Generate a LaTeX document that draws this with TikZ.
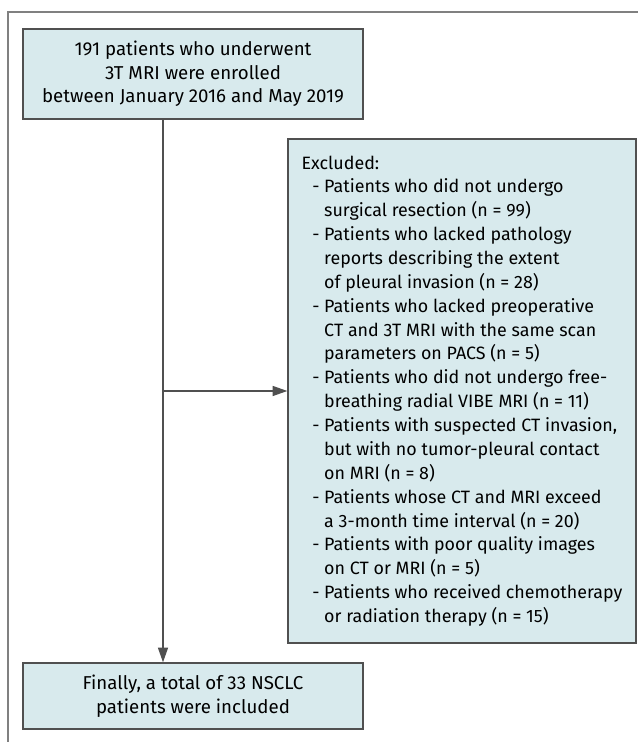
\documentclass[tikz,border=0pt]{standalone}
\usepackage{fontspec}
\setmainfont{Fira Sans}
\usetikzlibrary{arrows.meta}
\definecolor{boxfill}{RGB}{216,234,237}
\definecolor{boxline}{RGB}{80,80,80}
\newcommand{\exitem}[1]{\hspace*{0.6em}- #1}
\newcommand{\excont}[1]{\hspace*{0.6em}\phantom{- }#1}
\begin{document}
\begin{tikzpicture}[x=0.75pt, y=0.75pt,
    font=\fontsize{14}{17.6}\selectfont,
    flowbox/.style={draw=boxline, fill=boxfill, line width=1pt, inner sep=0pt, align=center},
    flowarrow/.style={draw=boxline, line width=0.9pt, -{Triangle[length=11pt, width=7.5pt]}}]
      \useasboundingbox (0, 0) rectangle (638, 742);
      \draw [gray, line width=1pt] (8, 0) -- (8, 730) -- (638, 730);
      \node [flowbox, minimum width=255pt, minimum height=67.5pt] (enrolled) at (193, 668)
        {191 patients who underwent\\3T MRI were enrolled\\between January 2016 and May 2019};
      \node [flowbox, minimum width=261pt, minimum height=378pt, align=left,
        font=\fontsize{13.4}{17.9}\selectfont] (excluded) at (462, 351)
        {Excluded:\\
        \exitem{Patients who did not undergo}\\
        \excont{surgical resection (n = 99)}\\
        \exitem{Patients who lacked pathology}\\
        \excont{reports describing the extent}\\
        \excont{of pleural invasion (n = 28)}\\
        \exitem{Patients who lacked preoperative}\\
        \excont{CT and 3T MRI with the same scan}\\
        \excont{parameters on PACS (n = 5)}\\
        \exitem{Patients who did not undergo free-}\\
        \excont{breathing radial VIBE MRI (n = 11)}\\
        \exitem{Patients with suspected CT invasion,}\\
        \excont{but with no tumor-pleural contact}\\
        \excont{on MRI (n = 8)}\\
        \exitem{Patients whose CT and MRI exceed}\\
        \excont{a 3-month time interval (n = 20)}\\
        \exitem{Patients with poor quality images}\\
        \excont{on CT or MRI (n = 5)}\\
        \exitem{Patients who received chemotherapy}\\
        \excont{or radiation therapy (n = 15)}};
      \node [flowbox, minimum width=255pt, minimum height=49.5pt] (final) at (193, 46)
        {Finally, a total of 33 NSCLC\\patients were included};
      \coordinate (split) at (163, 351);
      \draw [flowarrow] (enrolled.south -| split) -- (final.north -| split);
      \draw [flowarrow] (split) -- (excluded.west);
    \end{tikzpicture}
\end{document}
